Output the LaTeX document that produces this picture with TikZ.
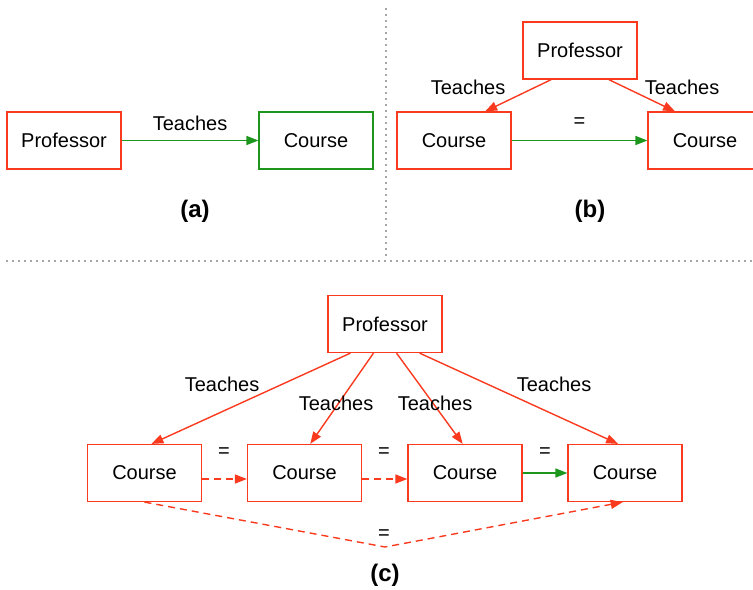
\documentclass[tikz,border=0pt]{standalone}
\usepackage{fontspec}
\setmainfont{Liberation Sans}
\usetikzlibrary{arrows.meta,calc}
\definecolor{relred}{RGB}{250,58,30}
\definecolor{relgreen}{RGB}{28,150,28}
\begin{document}
\begin{tikzpicture}[x=0.5pt,y=-0.5pt,font=\fontsize{10}{12}\selectfont,
  entity/.style={draw=relred,line width=0.6pt,minimum width=57pt,minimum height=28.5pt,inner sep=0pt},
  okentity/.style={entity,draw=relgreen},
  link/.style={relred,line width=0.7pt,-{Triangle[length=6pt,width=4.5pt]}},
  oklink/.style={link,relgreen},
  eqlink/.style={link,dash pattern=on 3.5pt off 2.5pt},
  lbl/.style={text=black},
  sep/.style={gray!70,line width=0.9pt,dash pattern=on 0.9pt off 2.1pt},
  caption/.style={font=\fontsize{12}{14}\selectfont\bfseries}]
\useasboundingbox(0,0)rectangle(753,589);
\draw[sep](386,8)--(386,258);
\draw[sep](6,261)--(753,261);
% (a)
\node[entity](pa)at(64,140.5){Professor};
\node[okentity](ca)at(316,140.5){Course};
\draw[oklink](pa)--(ca)node[lbl,midway,above=1pt]{Teaches};
\node[caption](capa)at(195,211){(a)};
% (b)
\node[entity](pb)at(580,50.5){Professor};
\node[entity](cb1)at(454,140.5){Course};
\node[entity](cb2)at(705,140.5){Course};
\draw[link]($(pb.south west)!.25!(pb.south east)$)--($(cb1.north west)!.77!(cb1.north east)$);
\draw[link]($(pb.south west)!.75!(pb.south east)$)--($(cb2.north west)!.24!(cb2.north east)$);
\node(tb1)at(468,87){Teaches};
\node(tb2)at(682,87){Teaches};
\draw[oklink](cb1)--(cb2)node[lbl,midway,above=3pt]{=};
\node[caption](capb)at(590,211){(b)};
% (c)
\node[entity](pc)at(385,324){Professor};
\node[entity](cc1)at(144.5,473){Course};
\node[entity](cc2)at(304.5,473){Course};
\node[entity](cc3)at(465,473){Course};
\node[entity](cc4)at(625,473){Course};
\draw[link]($(pc.south west)!.2!(pc.south east)$)--($(cc1.north west)!.56!(cc1.north east)$);
\draw[link]($(pc.south west)!.4!(pc.south east)$)--($(cc2.north west)!.55!(cc2.north east)$);
\draw[link]($(pc.south west)!.6!(pc.south east)$)--($(cc3.north west)!.48!(cc3.north east)$);
\draw[link]($(pc.south west)!.8!(pc.south east)$)--($(cc4.north west)!.44!(cc4.north east)$);
\node(tc1)at(222,384){Teaches};
\node(tc2)at(336,403){Teaches};
\node(tc3)at(435,403){Teaches};
\node(tc4)at(554,384){Teaches};
\draw[eqlink]([yshift=-3pt]cc1.east)--([yshift=-3pt]cc2.west);
\draw[eqlink]([yshift=-3pt]cc2.east)--([yshift=-3pt]cc3.west);
\draw[oklink](cc3)--(cc4);
\node(e1)at(224,453){=};
\node(e2)at(384,453){=};
\node(e3)at(545,453){=};
\coordinate(vtip)at(385,547);
\draw[eqlink](cc1.south)--(vtip)--($(cc4.south west)!.48!(cc4.south east)$);
\node(e4)at(384,535){=};
\node[caption](capc)at(385,575){(c)};
\end{tikzpicture}
\end{document}
